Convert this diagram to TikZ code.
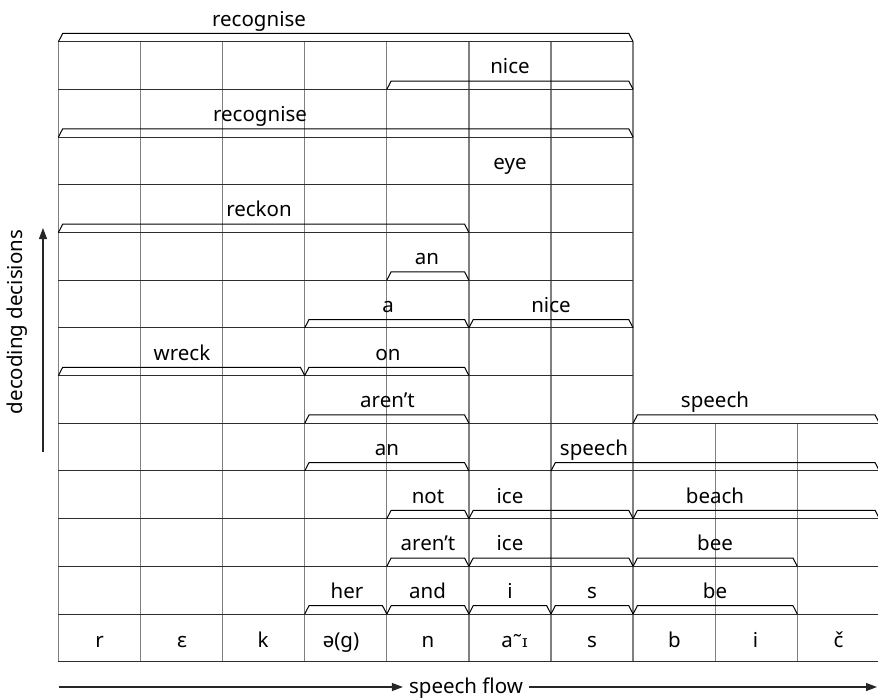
\documentclass[tikz,border=0pt]{standalone}
\usepackage{fontspec}
\setmainfont{Noto Sans}
\newfontfamily\ipaser{DejaVu Serif}
\usetikzlibrary{arrows.meta}
\definecolor{gridgray}{RGB}{128,128,128}
\definecolor{gridline}{RGB}{45,45,45}
\begin{document}
\begin{tikzpicture}[x=1pt,y=-1pt,
  vline/.style={draw=gridgray,line width=1.3pt},
  hline/.style={draw=gridline,line width=1pt},
  brk/.style={draw=black,line width=1pt,line join=miter},
  lbl/.style={font=\fontsize{20.5}{24}\selectfont,anchor=base,inner sep=0pt,text=black},
  axis/.style={draw=black!85,line width=1.1pt,-{Triangle[length=11pt,width=8pt]}}
]
\useasboundingbox (0,0) rectangle (878,698);
\def\xo{58.4}\def\cw{82.1}\def\yo{661.7}\def\rh{47.69}
% grid
\foreach \i in {0,...,7} \draw[vline] ({\xo+\cw*\i},{\yo-\rh*13}) -- ({\xo+\cw*\i},\yo);
\foreach \i in {8,9,10} \draw[vline] ({\xo+\cw*\i},{\yo-\rh*5}) -- ({\xo+\cw*\i},\yo);
\foreach \j in {0,...,5} \draw[hline] (\xo,{\yo-\rh*\j}) -- ({\xo+\cw*10},{\yo-\rh*\j});
\foreach \j in {6,...,13} \draw[hline] (\xo,{\yo-\rh*\j}) -- ({\xo+\cw*7},{\yo-\rh*\j});
% brackets
\foreach \j/\a/\b in {13/0/7, 12/4/7, 11/0/7, 9/0/5, 8/4/5, 7/3/5, 7/5/7, 6/0/3, 6/3/5,
  5/3/5, 5/7/10, 4/3/5, 4/6/10, 3/4/5, 3/5/7, 3/7/10, 2/4/5, 2/5/7, 2/7/9,
  1/3/4, 1/4/5, 1/5/6, 1/6/7, 1/7/9}
  \draw[brk] ({\xo+\cw*\a},{\yo-\rh*\j}) -- ++(4.3,-8.3)
     -- ({\xo+\cw*\b-4.3},{\yo-\rh*\j-8.3}) -- ({\xo+\cw*\b},{\yo-\rh*\j});
% word labels
\newcommand\wlabel[4]{\node[lbl] (#1) at (#2,{\yo-\rh*#3-15.5}) {#4};}
\wlabel{a13}{259}{13}{recognise}
\wlabel{a12}{510}{12}{nice}
\wlabel{a11}{260}{11}{recognise}
\wlabel{a10}{510}{10}{eye}
\wlabel{a9}{259}{9}{reckon}
\wlabel{a8}{427}{8}{an}
\wlabel{a7}{388}{7}{a}
\wlabel{b7}{551}{7}{nice}
\wlabel{a6}{182}{6}{wreck}
\wlabel{b6}{388}{6}{on}
\wlabel{a5}{387.5}{5}{aren’t}
\wlabel{b5}{715}{5}{speech}
\wlabel{a4}{387}{4}{an}
\wlabel{b4}{594}{4}{speech}
\wlabel{a3}{428}{3}{not}
\wlabel{b3}{510}{3}{ice}
\wlabel{c3}{715}{3}{beach}
\wlabel{a2}{428}{2}{aren’t}
\wlabel{b2}{510}{2}{ice}
\wlabel{c2}{715}{2}{bee}
\wlabel{a1}{347}{1}{her}
\wlabel{b1}{427.5}{1}{and}
\wlabel{c1}{510}{1}{i}
\wlabel{d1}{592}{1}{s}
\wlabel{e1}{715}{1}{be}
% phonemes
\foreach \n/\x/\t in {p0/99.5/r, p1/182/ɛ, p2/263/k, p3/341/ə(g), p4/428/n,
  p5/514.5/{a\raisebox{-2pt}{˜}{\ipaser\fontsize{17}{20}\selectfont ɪ}}, p6/592/s, p7/674.5/b, p8/755.5/i, p9/838.5/č}
  \node[lbl] (\n) at (\x,647.3) {\t};
% axes
\coordinate (vS) at (43,452);
\coordinate (vE) at (43,228);
\draw[axis] (vS) -- (vE);
\node[lbl,rotate=90,anchor=center] (dd) at (17,322) {decoding decisions};
\coordinate (hS) at (59,687);
\coordinate (hE) at (877,687);
\node[lbl,inner xsep=6pt] (flow) at (466,693.5) {speech flow};
\draw[axis] (hS) -- (hS -| flow.west);
\draw[axis] (hS -| flow.east) -- (hE);
\end{tikzpicture}
\end{document}
